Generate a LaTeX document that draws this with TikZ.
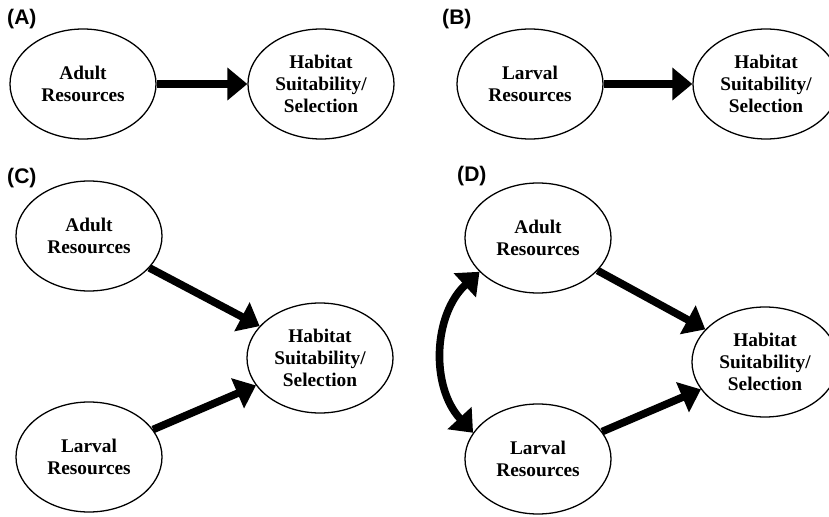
\documentclass[tikz,border=0pt]{standalone}
\usepackage{fontspec}
\setmainfont{Liberation Serif}
\setsansfont{Liberation Sans}
\usetikzlibrary{arrows.meta}
\usetikzlibrary{shapes.geometric}
\tikzset{
  res/.style={draw, ellipse, line width=1.1pt, minimum width=4.38cm, minimum height=3.3cm,
    inner sep=0pt, align=center, font=\fontsize{16.5}{18.8}\selectfont\bfseries},
  link/.style={line width=6.5pt, -{Triangle[length=0.6cm, width=0.95cm]}},
  biarrow/.style={line width=6.5pt, {Triangle[length=0.6cm, width=0.95cm]}-{Triangle[length=0.6cm, width=0.95cm]}},
  panel/.style={anchor=west, inner sep=0pt, font=\fontsize{18}{20}\selectfont\sffamily\bfseries}
}

\begin{document}
\begin{tikzpicture}[x=0.03cm, y=0.03cm]
  \clip (0,0) rectangle (829,-517);

  % (A) adult resources only
  \node[panel] (labA) at (7,-19) {(A)};
  \node[res] (adultA) at (83,-84) {Adult\\Resources};
  \node[res] (habA) at (321,-84) {Habitat\\Suitability/\\Selection};
  \draw[link] (adultA) -- (habA);

  % (B) larval resources only
  \node[panel] (labB) at (442,-19) {(B)};
  \node[res] (larvB) at (530,-84) {Larval\\Resources};
  \node[res] (habB) at (766,-84) {Habitat\\Suitability/\\Selection};
  \draw[link] (larvB) -- (habB);

  % (C) both, independent
  \node[panel] (labC) at (7,-178) {(C)};
  \node[res] (adultC) at (89,-236) {Adult\\Resources};
  \node[res] (larvC) at (89,-457) {Larval\\Resources};
  \node[res] (habC) at (320,-358) {Habitat\\Suitability/\\Selection};
  \draw[link] (adultC) -- (habC);
  \draw[link] (larvC) -- (habC);

  % (D) both, linked
  \node[panel] (labD) at (457,-176) {(D)};
  \node[res] (adultD) at (538,-238) {Adult\\Resources};
  \node[res] (larvD) at (538,-459) {Larval\\Resources};
  \node[res] (habD) at (765,-362) {Habitat\\Suitability/\\Selection};
  \draw[link] (adultD) -- (habD);
  \draw[link] (larvD) -- (habD);
  \draw[biarrow] (adultD.210) to[bend right=45] (larvD.158);
\end{tikzpicture}
\end{document}
